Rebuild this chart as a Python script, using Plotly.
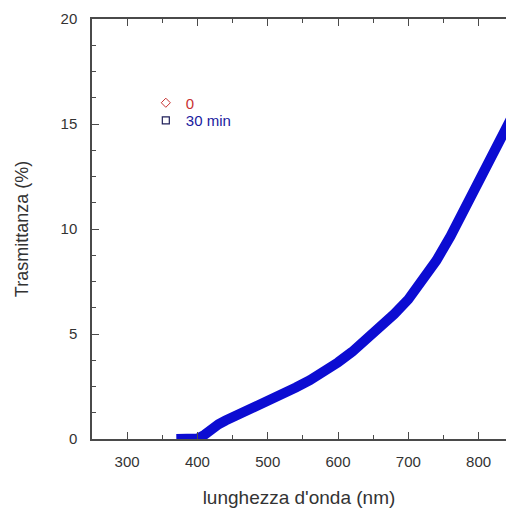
import plotly.graph_objects as go

# Data
wavelength_nm = [370, 380, 390, 400, 410, 420, 430, 440, 450, 460, 470, 480, 490, 500,
                 520, 540, 560, 580, 600, 620, 640, 660, 680, 700, 720, 740, 760, 780,
                 800, 820, 840, 850]
trasmittanza_30min = [0, 0, 0, 0.02, 0.2, 0.5, 0.7, 0.88, 1.03, 1.2, 1.36, 1.5, 1.63, 1.76,
                      2.1, 2.45, 2.8, 3.2, 3.65, 4.15, 4.7, 5.3, 5.95, 6.65, 7.5, 8.5,
                      9.65, 10.9, 12.1, 13.35, 14.8, 15.5]
series_names = ["0", "30 min"]
series_colors = ["#c83232", "#1a1aa0"]
x_ticks = [300, 400, 500, 600, 700, 800]
y_ticks = [0, 5, 10, 15, 20]

BLUE = "#0c0cd2"
AXIS = "#4a4a4a"
FONT = "Liberation Sans, Arial, sans-serif"

fig = go.Figure()

# 30 min curve (thick band)
fig.add_trace(go.Scatter(
    x=wavelength_nm, y=trasmittanza_30min, mode="lines",
    line=dict(color=BLUE, width=10),
    showlegend=False, hoverinfo="skip"))

# Legend entries (one legend per entry for exact placement)
fig.add_trace(go.Scatter(
    x=[None], y=[None], mode="markers", legend="legend",
    name=f'<span style="color:{series_colors[0]}">{series_names[0]}</span>',
    marker=dict(symbol="diamond-open", size=7, color=series_colors[0], line=dict(width=1))))
fig.add_trace(go.Scatter(
    x=[None], y=[None], mode="markers", legend="legend2",
    name=f'<span style="color:{series_colors[1]}">{series_names[1]}</span>',
    marker=dict(symbol="square-open", size=7, color="#20205a", line=dict(width=1.2))))

leg_common = dict(x=0.13, xanchor="left", yanchor="middle", bgcolor="rgba(0,0,0,0)",
                  font=dict(size=15), itemwidth=30)

fig.update_layout(
    width=506, height=513,
    margin=dict(l=92, r=0, t=19, b=74),
    paper_bgcolor="white", plot_bgcolor="white",
    font=dict(family=FONT, size=15, color="#333333"),
    legend=dict(y=0.8, **leg_common),
    legend2=dict(y=0.758, **leg_common),
    xaxis=dict(
        range=[250, 839], tickvals=x_ticks, ticks="inside", ticklen=7, tickwidth=1.3,
        tickcolor=AXIS, showline=True, linecolor=AXIS, linewidth=1.5, mirror="ticks",
        showgrid=False, zeroline=False, ticklabelstandoff=8,
        minor=dict(ticks="inside", dtick=50, tick0=250, ticklen=4, tickcolor=AXIS, showgrid=False),
        title=dict(text="lunghezza d'onda (nm)", font=dict(size=19, color="#333333"), standoff=22),
        tickfont=dict(size=15, color="#333333")),
    yaxis=dict(
        range=[0, 20], tickvals=y_ticks, ticks="inside", ticklen=7, tickwidth=1.3,
        tickcolor=AXIS, showline=True, linecolor=AXIS, linewidth=1.5, mirror=False,
        showgrid=False, zeroline=False, ticklabelstandoff=10,
        minor=dict(ticks="inside", dtick=1.25, tick0=0, ticklen=4, tickcolor=AXIS, showgrid=False),
        title=dict(text="Trasmittanza (%)", font=dict(size=18, color="#333333"), standoff=27),
        tickfont=dict(size=15, color="#333333")),
)

fig.write_html("out.html", config={"displayModeBar": False},
               post_script="document.body.style.margin='0';document.body.style.overflow='hidden';")
